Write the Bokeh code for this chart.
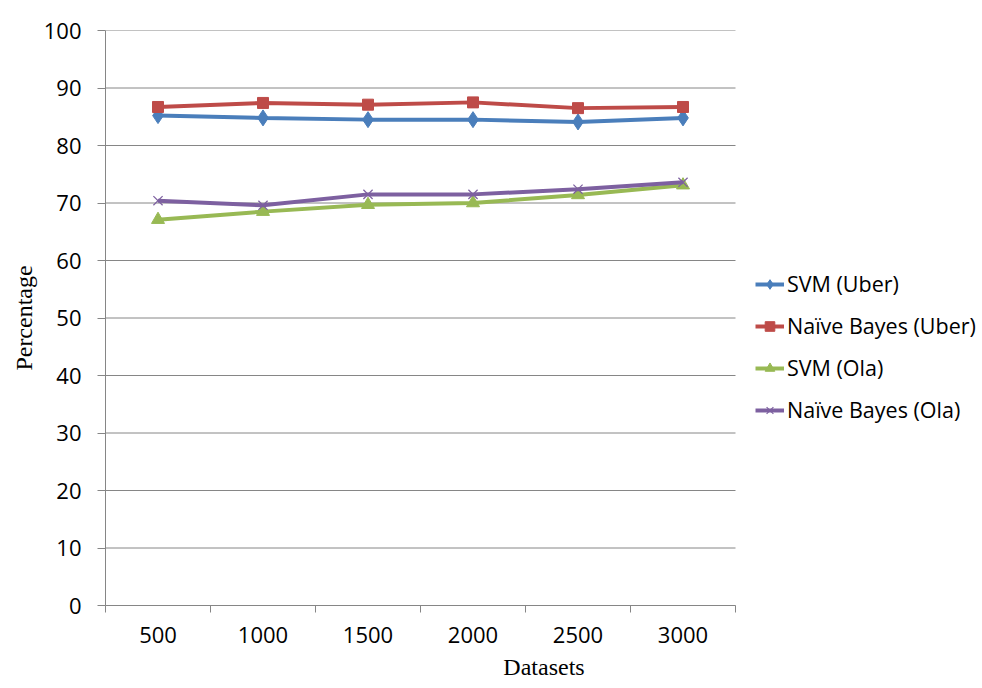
from bokeh.plotting import figure
from bokeh.models import FixedTicker, Legend, LegendItem, Range1d
from bokeh.embed import file_html
from bokeh.resources import INLINE

categories = ["500", "1000", "1500", "2000", "2500", "3000"]
svm_uber = [85.2, 84.8, 84.5, 84.5, 84.1, 84.8]
nb_uber = [86.7, 87.4, 87.1, 87.5, 86.5, 86.7]
svm_ola = [67.1, 68.5, 69.7, 70.0, 71.4, 73.1]
nb_ola = [70.4, 69.6, 71.5, 71.5, 72.4, 73.6]

series_names = ["SVM (Uber)", "Naïve Bayes (Uber)", "SVM (Ola)", "Naïve Bayes (Ola)"]
y_ticks = [0, 10, 20, 30, 40, 50, 60, 70, 80, 90, 100]

n = len(categories)
xs = [i + 0.5 for i in range(n)]

W, H = 982, 688
LEFT, TOP, BOTTOM = 105, 30, 83
AXIS_PX = 630  # pixel width of the category axis
frame_w = W - LEFT
x_end = n * frame_w / AXIS_PX

p = figure(width=W, height=H, output_backend="svg", toolbar_location=None,
           x_range=Range1d(0, x_end), y_range=Range1d(0, 100))
p.min_border_left = LEFT
p.min_border_right = 0
p.min_border_top = TOP
p.min_border_bottom = BOTTOM
p.outline_line_color = None
p.background_fill_color = "white"
p.border_fill_color = "white"

grey = "#868686"
TICK_FONT = "Open Sans"

# horizontal gridlines limited to the category axis extent
p.segment(x0=[0] * len(y_ticks), y0=y_ticks, x1=[n] * len(y_ticks), y1=y_ticks,
          line_color=grey, line_width=1)

# x axis
p.xaxis.bounds = (0, n)
p.xaxis.ticker = FixedTicker(ticks=xs, minor_ticks=list(range(n + 1)))
p.xaxis.major_label_overrides = {x: c for x, c in zip(xs, categories)}
p.xaxis.major_tick_out = 0
p.xaxis.major_tick_in = 0
p.xaxis.minor_tick_out = 7
p.xaxis.minor_tick_in = 0
p.xaxis.minor_tick_line_color = grey
p.xaxis.axis_line_color = grey
p.xaxis.major_label_text_font = TICK_FONT
p.xaxis.major_label_text_font_size = "22px"
p.xaxis.major_label_text_color = "black"
p.xaxis.major_label_standoff = 14
p.xaxis.axis_label = "Datasets"
p.xaxis.axis_label_text_font = "Liberation Serif"
p.xaxis.axis_label_text_font_style = "normal"
p.xaxis.axis_label_text_font_size = "24px"
p.xaxis.axis_label_text_color = "black"
p.xaxis.axis_label_standoff = 8
p.xgrid.visible = False

# y axis
p.yaxis.ticker = FixedTicker(ticks=y_ticks, minor_ticks=[])
p.yaxis.major_tick_out = 8
p.yaxis.major_tick_in = 0
p.yaxis.major_tick_line_color = grey
p.yaxis.minor_tick_line_color = None
p.yaxis.axis_line_color = grey
p.yaxis.major_label_text_font = TICK_FONT
p.yaxis.major_label_text_font_size = "22px"
p.yaxis.major_label_text_color = "black"
p.yaxis.major_label_standoff = 16
p.yaxis.axis_label = "Percentage"
p.yaxis.axis_label_text_font = "Liberation Serif"
p.yaxis.axis_label_text_font_style = "normal"
p.yaxis.axis_label_text_font_size = "24px"
p.yaxis.axis_label_text_color = "black"
p.yaxis.axis_label_standoff = 4
p.ygrid.visible = False

colors = ["#4A7EBB", "#BE4B48", "#98B954", "#7D60A0"]
markers = ["diamond", "square", "triangle", "x"]
sizes = [16, 11, 13, 13]
data = [svm_uber, nb_uber, svm_ola, nb_ola]

items = []
for name, ys, c, m, s in zip(series_names, data, colors, markers, sizes):
    ln = p.line(xs, ys, line_color=c, line_width=4)
    if m == "x":
        sc = p.scatter(xs, ys, marker=m, size=s, line_color=c, line_width=1.2)
    else:
        sc = p.scatter(xs, ys, marker=m, size=s, fill_color=c, line_color=c, line_width=1)
    items.append(LegendItem(label=name, renderers=[ln, sc]))

legend = Legend(items=items, location=(AXIS_PX + 20, 181))
legend.border_line_color = None
legend.background_fill_alpha = 0
legend.padding = 0
legend.margin = 0
legend.spacing = 13
legend.glyph_width = 29
legend.glyph_height = 24
legend.label_height = 24
legend.label_standoff = 3
legend.label_text_font = TICK_FONT
legend.label_text_font_size = "21.5px"
legend.label_text_color = "black"
p.add_layout(legend, "center")

open("out.html", "w").write(file_html(p, INLINE))
